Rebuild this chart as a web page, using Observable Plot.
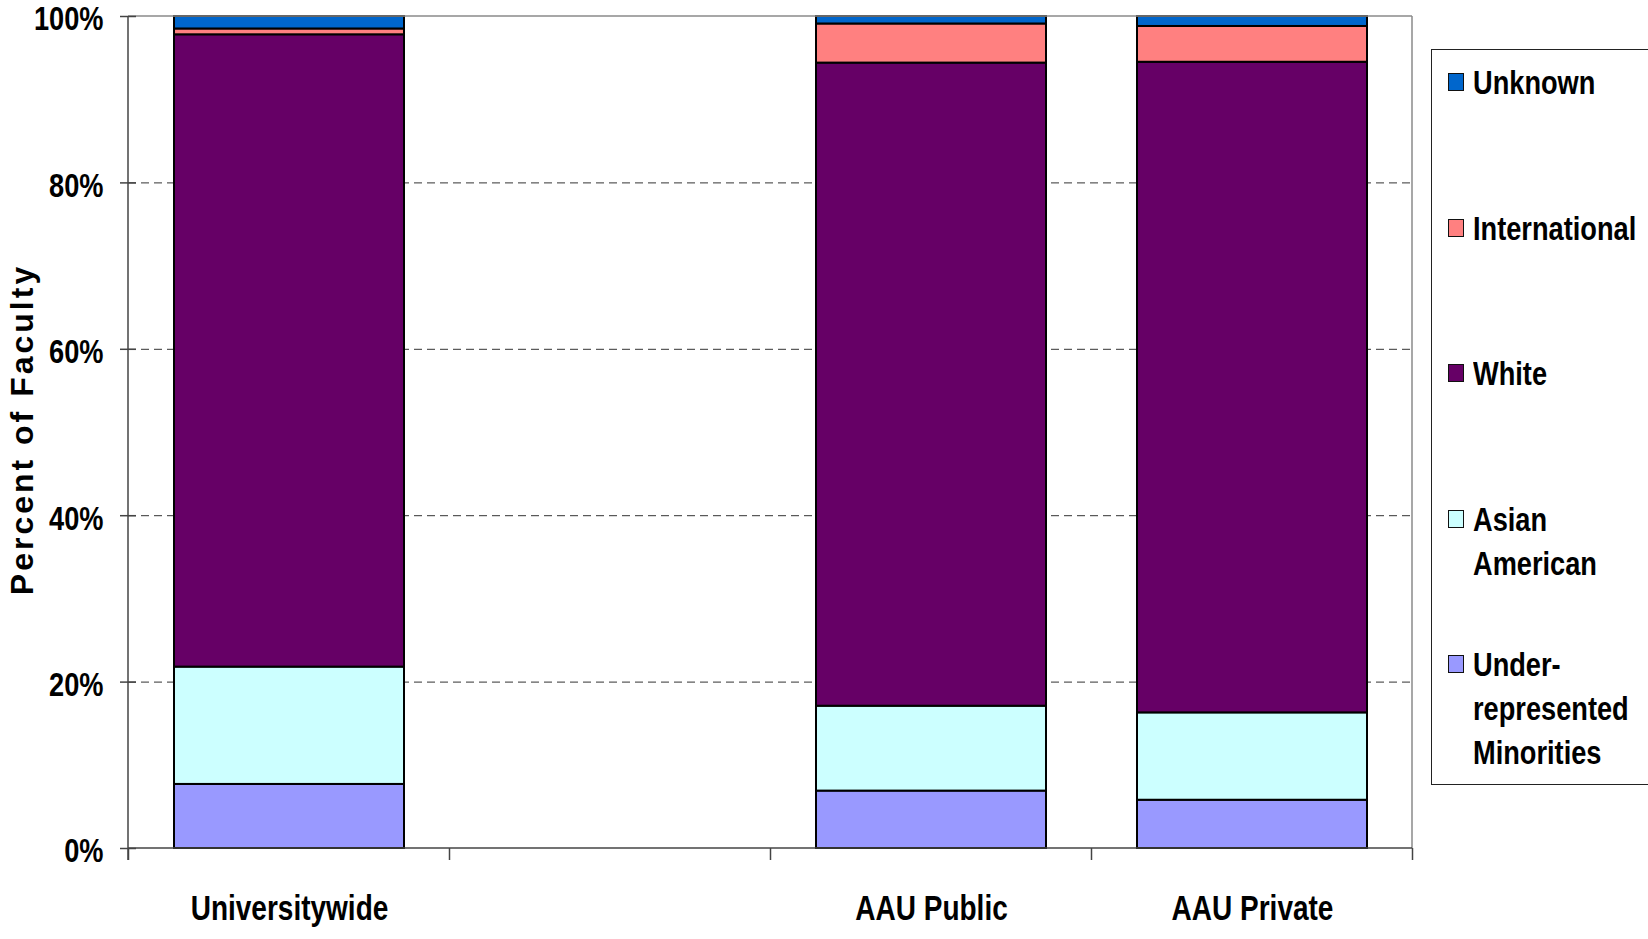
<!DOCTYPE html>
<html>
<head>
<meta charset="utf-8">
<script src="https://cdn.jsdelivr.net/npm/d3@7"></script>
<script src="https://cdn.jsdelivr.net/npm/@observablehq/plot@0.6"></script>
<style>
  html, body { margin: 0; padding: 0; background: #fff; overflow: hidden; }
  #wrap { position: relative; width: 1648px; height: 939px; overflow: hidden; }
  #legend { position: absolute; left: 1431px; top: 49px; width: 260px; height: 736px; border: 1px solid #222; box-sizing: border-box; background: #fff; }
  #legend .item { position: absolute; left: 0; }
  #legend .sw { position: absolute; left: 16px; top: 13px; width: 16px; height: 18px; border: 1.5px solid #111; box-sizing: border-box; }
  #legend .tx { position: absolute; left: 41px; top: 0; font-family: "Liberation Sans", Arial, sans-serif; font-weight: bold; font-size: 34px; line-height: 44px; white-space: nowrap; color: #000; transform: scaleX(0.8); transform-origin: 0 0; }
</style>
</head>
<body>
<div id="wrap"></div>
<script>
// ---- data ----
const barCategories = ["Universitywide", "AAU Public", "AAU Private"];
const axisSlots = ["Universitywide", "", "AAU Public", "AAU Private"];
const series = ["Under-represented Minorities", "Asian American", "White", "International", "Unknown"];
const seriesColors = ["#9999FF", "#CCFFFF", "#660066", "#FF8080", "#0066CC"];
const urmValues = [7.7, 6.9, 5.8];
const asianValues = [14.1, 10.2, 10.5];
const whiteValues = [76.0, 77.3, 78.2];
const internationalValues = [0.7, 4.7, 4.3];
const unknownValues = [1.5, 0.9, 1.2];
const yTicks = [0, 20, 40, 60, 80, 100];
const gridValues = [20, 40, 60, 80];
const legendOrder = ["Unknown", "International", "White", "Asian American", "Under-represented Minorities"];
const legendLines = [["Unknown"], ["International"], ["White"], ["Asian", "American"], ["Under-", "represented", "Minorities"]];
const yTitle = "Percent of Faculty";

const valuesBySeries = [urmValues, asianValues, whiteValues, internationalValues, unknownValues];
const rows = [];
series.forEach((s, si) => {
  barCategories.forEach((c, ci) => rows.push({category: c, series: s, value: valuesBySeries[si][ci]}));
});

const W = 1648, H = 939;
const fontFam = '"Liberation Sans", Arial, sans-serif';
const padInner = 0.2835;

function frameMarks(index, scales, values, dimensions) {
  const {width, marginLeft, marginRight} = dimensions;
  const x = scales.x, y = scales.y;
  const left = marginLeft, right = width - marginRight;
  const top = y(100), bottom = y(0);
  const step = x(axisSlots[1]) - x(axisSlots[0]);
  const bw = typeof x.bandwidth === "function" ? x.bandwidth() : step * (1 - padInner);
  const gap = (step - bw) / 2;
  const g = d3.create("svg:g");
  g.append("line").attr("x1", left).attr("x2", right).attr("y1", top).attr("y2", top)
    .attr("stroke", "#8a8a8a").attr("stroke-width", 1.5);
  g.append("line").attr("x1", right).attr("x2", right).attr("y1", top).attr("y2", bottom)
    .attr("stroke", "#8a8a8a").attr("stroke-width", 1.5);
  const bounds = axisSlots.map(c => x(c) - gap);
  bounds.push(x(axisSlots[axisSlots.length - 1]) + bw + gap);
  bounds.forEach(b => {
    g.append("line").attr("x1", b).attr("x2", b).attr("y1", bottom).attr("y2", bottom + 12)
      .attr("stroke", "#444").attr("stroke-width", 1.5);
  });
  g.append("line").attr("x1", left).attr("x2", right).attr("y1", bottom).attr("y2", bottom)
    .attr("stroke", "#444").attr("stroke-width", 1.5);
  g.append("line").attr("x1", left).attr("x2", left).attr("y1", top).attr("y2", bottom + 12)
    .attr("stroke", "#444").attr("stroke-width", 1.5);
  return g.node();
}

const chart = Plot.plot({
  width: W,
  height: H,
  marginLeft: 128,
  marginRight: 236,
  marginTop: 16,
  marginBottom: 91,
  style: {fontFamily: fontFam, fontWeight: "bold", fontSize: "34px", color: "#000", background: "#fff"},
  x: {domain: axisSlots, paddingInner: padInner, paddingOuter: padInner / 2, axis: null},
  y: {domain: [0, 100], axis: null},
  color: {domain: series, range: seriesColors},
  marks: [
    Plot.ruleY(gridValues, {stroke: "#333", strokeWidth: 1, strokeDasharray: "8,5"}),
    Plot.barY(rows, {x: "category", y: "value", fill: "series", stroke: "#000", strokeWidth: 2, order: series}),
    frameMarks,
    Plot.axisY(yTicks, {tickFormat: () => "", tickSize: 16, dx: 8, stroke: "#444", strokeWidth: 1.5, label: null}),
    Plot.axisY(yTicks, {tickFormat: d => d + "%", tickSize: 0, tickPadding: 25, dy: 3, fontSize: 34, fontWeight: "bold", label: null}),
    Plot.axisX({tickSize: 0, tickPadding: 46.5, fontSize: 35, fontWeight: "bold", label: null}),
    Plot.text([yTitle], {frameAnchor: "left", textAnchor: "middle", rotate: -90, dx: -106, dy: -3, fontSize: 32, fontWeight: "bold", fill: "#000"})
  ]
});

const wrap = document.getElementById("wrap");
wrap.appendChild(chart);

// condense the axis tick labels horizontally, as in the reference's narrow type
d3.select(chart).selectAll("text").each(function() {
  const t = this.textContent;
  if (!t) return;
  if (t === yTitle) {
    this.style.letterSpacing = "3px";
    return;
  }
  const len = this.getComputedTextLength();
  if (len > 0) {
    this.setAttribute("textLength", (len * 0.8).toFixed(2));
    this.setAttribute("lengthAdjust", "spacingAndGlyphs");
  }
});

// legend
const legend = document.createElement("div");
legend.id = "legend";
legendOrder.forEach((name, i) => {
  const item = document.createElement("div");
  item.className = "item";
  item.style.top = (10 + i * 145.5) + "px";
  const sw = document.createElement("div");
  sw.className = "sw";
  sw.style.background = seriesColors[series.indexOf(name)];
  const tx = document.createElement("div");
  tx.className = "tx";
  tx.innerHTML = legendLines[i].join("<br>");
  item.appendChild(sw);
  item.appendChild(tx);
  legend.appendChild(item);
});
wrap.appendChild(legend);
</script>
</body>
</html>
